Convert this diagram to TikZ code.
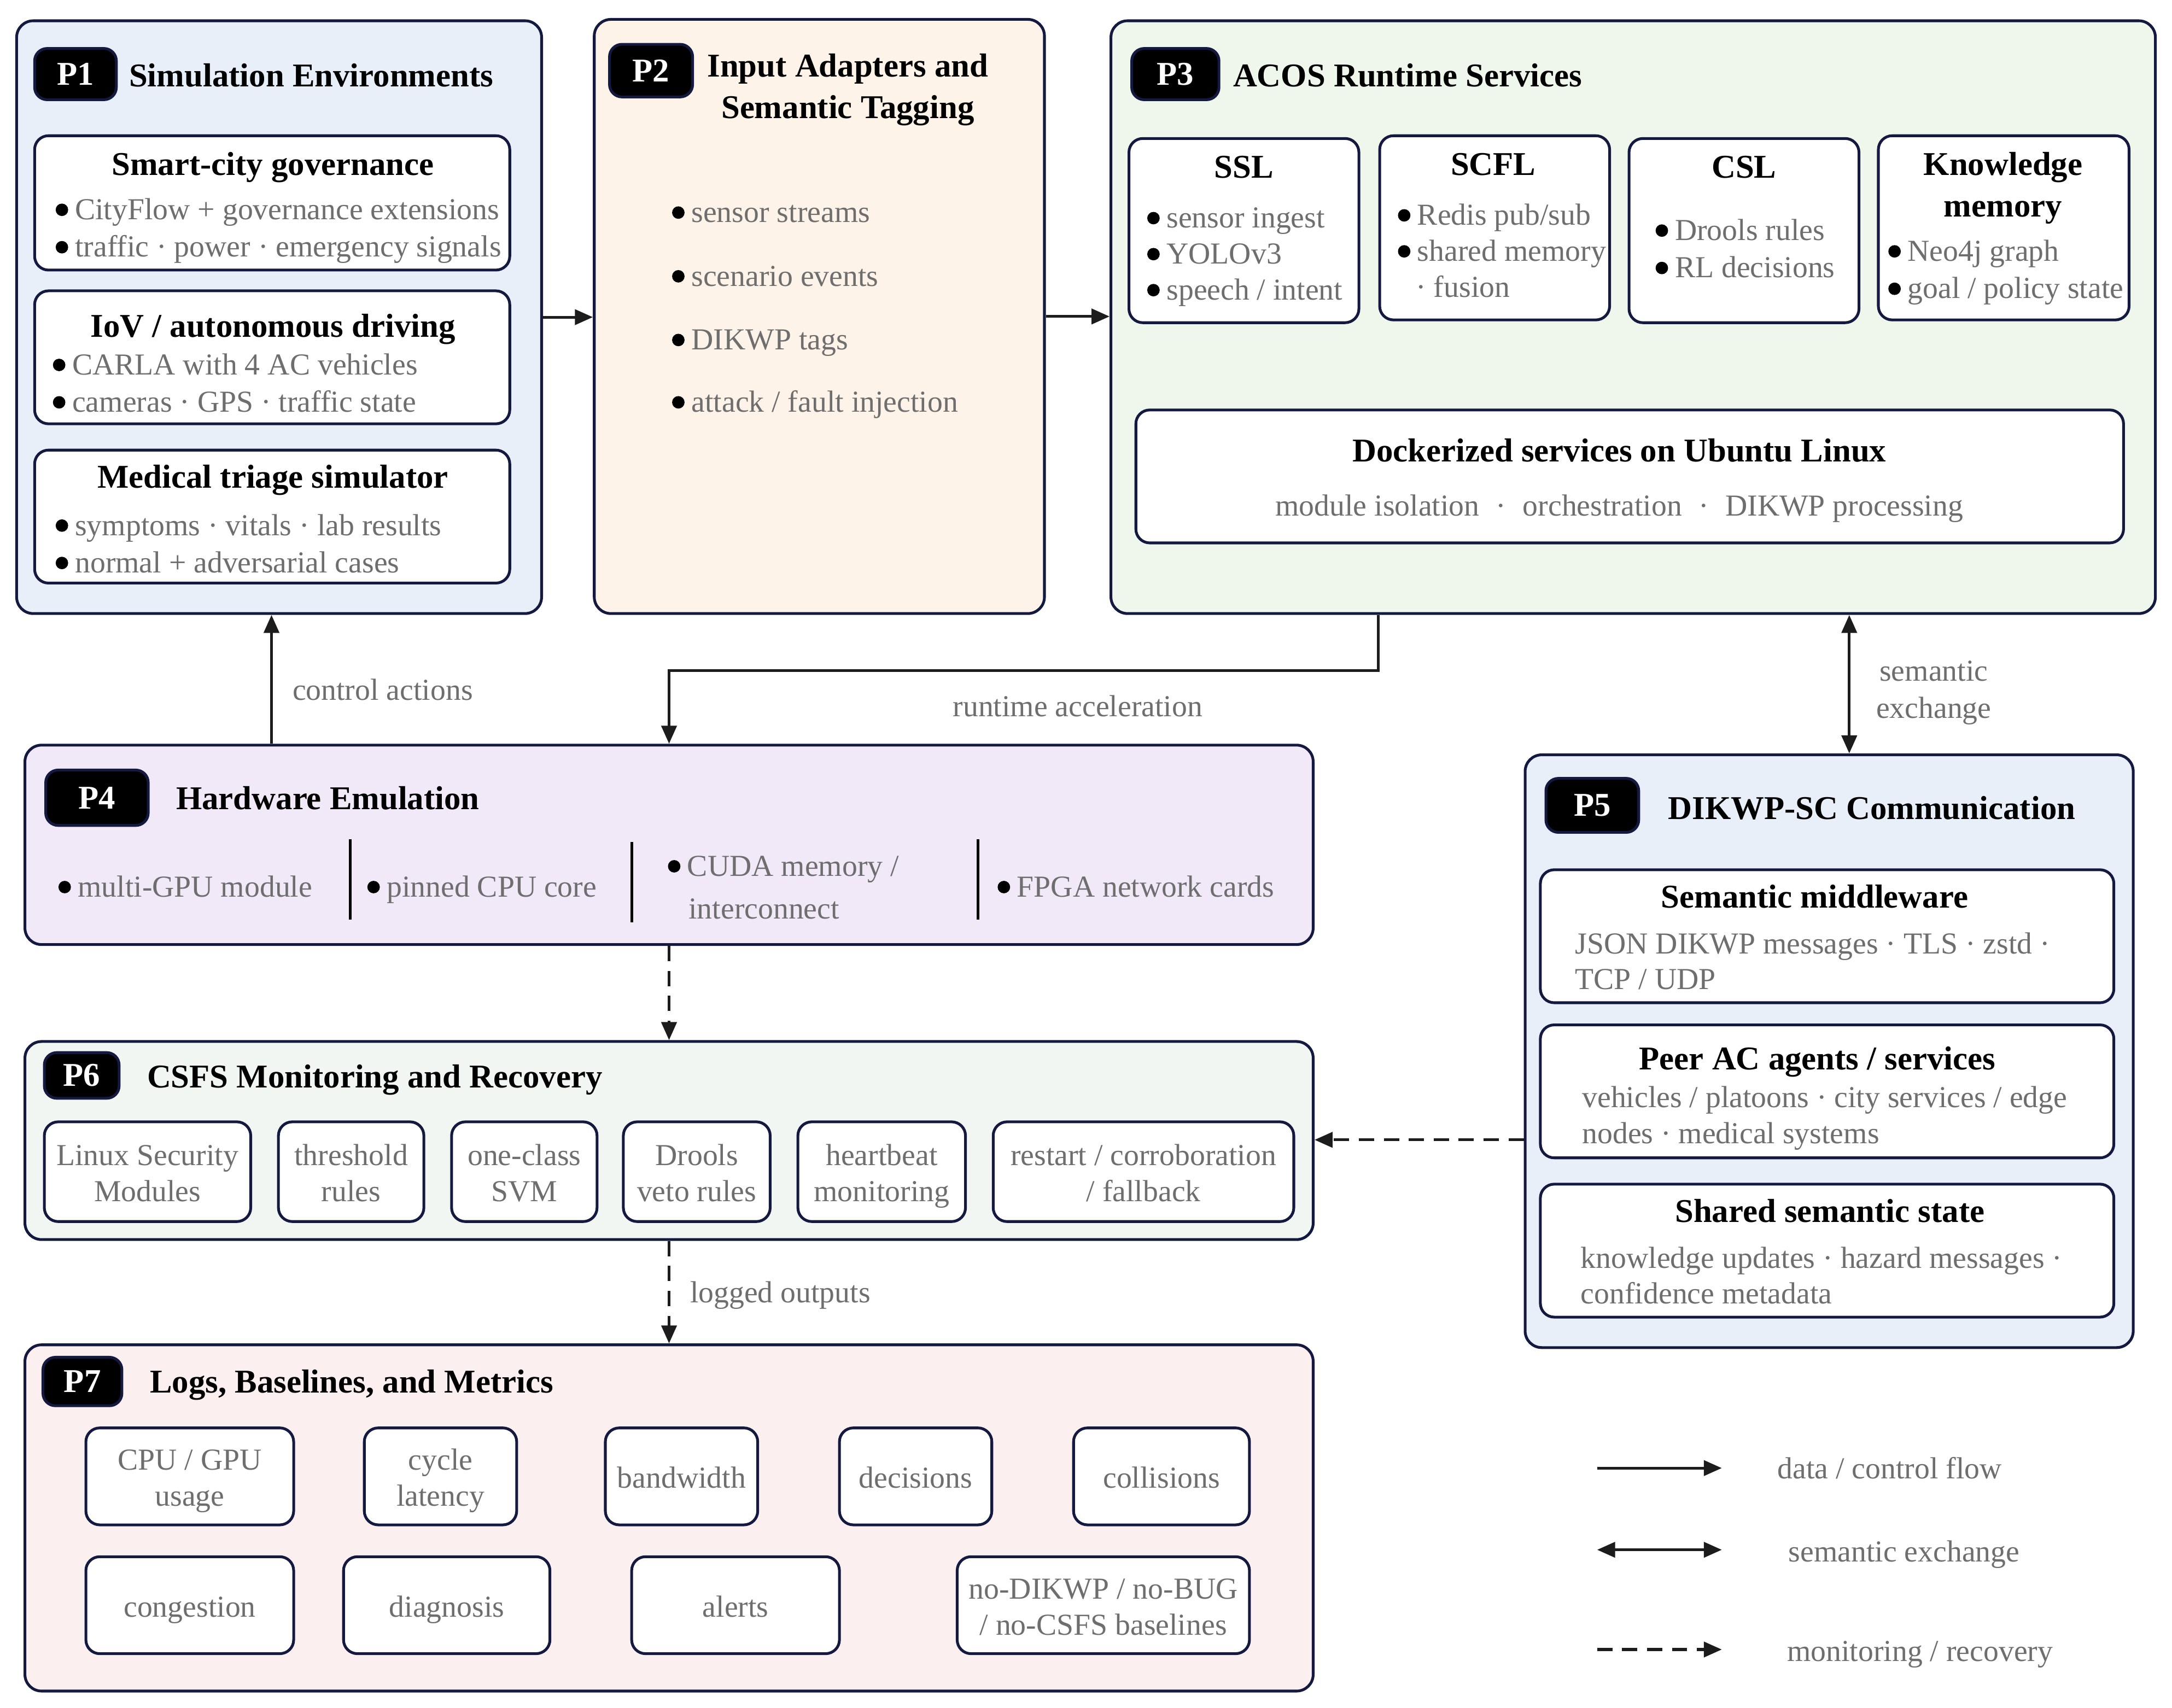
\documentclass[tikz,border=0pt]{standalone}
\usepackage{fontspec}
\setmainfont{Liberation Serif}
\usetikzlibrary{arrows.meta,fit}
\definecolor{navy}{RGB}{20,25,64}
\definecolor{tgray}{RGB}{110,110,110}
\definecolor{ink}{RGB}{28,28,28}
\definecolor{cPa}{RGB}{232,239,249}
\definecolor{cPb}{RGB}{253,243,232}
\definecolor{cPc}{RGB}{239,246,236}
\definecolor{cPd}{RGB}{241,232,248}
\definecolor{cPf}{RGB}{242,246,242}
\definecolor{cPg}{RGB}{251,239,240}
\newcommand{\bl}{\tikz[baseline=0pt]\fill[black] (4.5pt,7pt) circle[radius=4.5pt];\hspace{5pt}}
\begin{document}
\begin{tikzpicture}[x=1pt,y=-1pt,
 panel/.style={draw=navy,line width=2pt,rounded corners=12pt,inner sep=0pt},
 sub/.style={draw=navy,line width=2pt,rounded corners=10pt,fill=white,inner sep=0pt},
 badge/.style={draw=navy,line width=2pt,fill=black,rounded corners=9pt,inner sep=0pt},
 btxt/.style={font=\bfseries\fontsize{24}{28}\selectfont,text=white,inner sep=0pt},
 ttl/.style={font=\bfseries\fontsize{24}{28}\selectfont,text=black,inner sep=0pt,text height=22pt,text depth=5pt},
 txt/.style={font=\fontsize{22}{26}\selectfont,text=tgray,inner sep=0pt,text height=20pt,text depth=5pt},
 sepline/.style={draw=black,line width=2pt},
 flow/.style={draw=ink,line width=2pt,-{Triangle[length=13pt,width=11pt]}},
 both/.style={draw=ink,line width=2pt,{Triangle[length=13pt,width=11pt]}-{Triangle[length=13pt,width=11pt]}},
 mon/.style={draw=ink,line width=2pt,dash pattern=on 11pt off 7pt,-{Triangle[length=13pt,width=11pt]}},
]
\useasboundingbox (0,0) rectangle (1568,1233);
\fill[white] (0,0) rectangle (1568,1233);

% ---------------- P1
\node[panel,fill=cPa,fit={(12,15)(391,443)}] (p1) {};
\node[badge,fit={(25,35)(84,72)}] (b1) {};
\node[btxt] (b1t) at (b1.center) {P1};
\node[ttl,anchor=west] (t1) at (93,54) {Simulation Environments};
\node[sub,fit={(25,98)(368,195)}] (s11) {};
\node[ttl] (s11t) at (197,118) {Smart-city governance};
\node[txt,anchor=west] (s11a) at (40,151) {\bl CityFlow + governance extensions};
\node[txt,anchor=west] (s11b) at (40,178) {\bl traffic · power · emergency signals};
\node[sub,fit={(25,210)(368,306)}] (s12) {};
\node[ttl] (s12t) at (197,235) {IoV / autonomous driving};
\node[txt,anchor=west] (s12a) at (38,263) {\bl CARLA with 4 AC vehicles};
\node[txt,anchor=west] (s12b) at (38,290) {\bl cameras · GPS · traffic state};
\node[sub,fit={(25,325)(368,421)}] (s13) {};
\node[ttl] (s13t) at (197,344) {Medical triage simulator};
\node[txt,anchor=west] (s13a) at (40,379) {\bl symptoms · vitals · lab results};
\node[txt,anchor=west] (s13b) at (40,406) {\bl normal + adversarial cases};

% ---------------- P2
\node[panel,fill=cPb,fit={(429,14)(754,443)}] (p2) {};
\node[badge,fit={(440,32)(500,70)}] (b2) {};
\node[btxt] (b2t) at (b2.center) {P2};
\node[ttl] (t2a) at (612,47) {Input Adapters and};
\node[ttl] (t2b) at (612,77) {Semantic Tagging};
\node[txt,anchor=west] (p2a) at (485,153) {\bl sensor streams};
\node[txt,anchor=west] (p2b) at (485,199) {\bl scenario events};
\node[txt,anchor=west] (p2c) at (485,245) {\bl DIKWP tags};
\node[txt,anchor=west] (p2d) at (485,290) {\bl attack / fault injection};

% ---------------- P3
\node[panel,fill=cPc,fit={(802,15)(1556,443)}] (p3) {};
\node[badge,fit={(817,35)(880,72)}] (b3) {};
\node[btxt] (b3t) at (b3.center) {P3};
\node[ttl,anchor=west] (t3) at (890,54) {ACOS Runtime Services};
\node[sub,fit={(815,100)(981,233)}] (ssl) {};
\node[ttl] (sslt) at (898,120) {SSL};
\node[txt,anchor=west] (ssla) at (828,157) {\bl sensor ingest};
\node[txt,anchor=west] (sslb) at (828,183) {\bl YOLOv3};
\node[txt,anchor=west] (sslc) at (828,209) {\bl speech / intent};
\node[sub,fit={(996,98)(1162,231)}] (scfl) {};
\node[ttl] (scflt) at (1078,118) {SCFL};
\node[txt,anchor=west] (scfla) at (1009,155) {\bl Redis pub/sub};
\node[txt,anchor=west] (scflb) at (1009,181) {\bl shared memory};
\node[txt,anchor=west] (scflc) at (1022,207) {· fusion};
\node[sub,fit={(1176,100)(1342,233)}] (csl) {};
\node[ttl] (cslt) at (1259,120) {CSL};
\node[txt,anchor=west] (csla) at (1195,166) {\bl Drools rules};
\node[txt,anchor=west] (cslb) at (1195,193) {\bl RL decisions};
\node[sub,fit={(1356,98)(1537,231)}] (km) {};
\node[ttl] (kmt1) at (1446,118) {Knowledge};
\node[ttl] (kmt2) at (1446,148) {memory};
\node[txt,anchor=west] (kma) at (1363,181) {\bl Neo4j graph};
\node[txt,anchor=west] (kmb) at (1363,208) {\bl goal / policy state};
\node[sub,fit={(820,296)(1533,392)}] (dock) {};
\node[ttl] (dockt) at (1169,325) {Dockerized services on Ubuntu Linux};
\node[txt] (docka) at (1169,365) {module isolation\hspace{12pt}·\hspace{12pt}orchestration\hspace{12pt}·\hspace{12pt}DIKWP processing};

% ---------------- P4
\node[panel,fill=cPd,fit={(18,538)(948,682)}] (p4) {};
\node[badge,fit={(33,556)(107,596)}] (b4) {};
\node[btxt] (b4t) at (b4.center) {P4};
\node[ttl,anchor=west] (t4) at (127,576) {Hardware Emulation};
\node[txt,anchor=west] (p4a) at (42,640) {\bl multi-GPU module};
\draw[sepline] (253,606) -- (253,664);
\node[txt,anchor=west] (p4b) at (265,640) {\bl pinned CPU core};
\draw[sepline] (456,608) -- (456,666);
\node[txt,anchor=west] (p4c) at (482,625) {\bl CUDA memory /};
\node[txt,anchor=west] (p4d) at (497,656) {interconnect};
\draw[sepline] (706,606) -- (706,664);
\node[txt,anchor=west] (p4e) at (720,640) {\bl FPGA network cards};

% ---------------- P5
\node[panel,fill=cPa,fit={(1101,545)(1540,973)}] (p5) {};
\node[badge,fit={(1116,562)(1183,601)}] (b5) {};
\node[btxt] (b5t) at (b5.center) {P5};
\node[ttl,anchor=west] (t5) at (1204,583) {DIKWP-SC Communication};
\node[sub,fit={(1112,628)(1526,724)}] (sm) {};
\node[ttl] (smt) at (1310,647) {Semantic middleware};
\node[txt,anchor=west] (sma) at (1137,681) {JSON DIKWP messages · TLS · zstd ·};
\node[txt,anchor=west] (smb) at (1137,707) {TCP / UDP};
\node[sub,fit={(1112,740)(1526,836)}] (peer) {};
\node[ttl] (peert) at (1312,764) {Peer AC agents / services};
\node[txt,anchor=west] (peera) at (1142,792) {vehicles / platoons · city services / edge};
\node[txt,anchor=west] (peerb) at (1142,818) {nodes · medical systems};
\node[sub,fit={(1112,855)(1526,951)}] (sss) {};
\node[ttl] (ssst) at (1321,874) {Shared semantic state};
\node[txt,anchor=west] (sssa) at (1141,908) {knowledge updates · hazard messages ·};
\node[txt,anchor=west] (sssb) at (1141,934) {confidence metadata};

% ---------------- P6
\node[panel,fill=cPf,fit={(18,752)(948,895)}] (p6) {};
\node[badge,fit={(32,760)(86,793)}] (b6) {};
\node[btxt] (b6t) at (b6.center) {P6};
\node[ttl,anchor=west] (t6) at (106,777) {CSFS Monitoring and Recovery};
\node[sub,fit={(32,810)(181,882)}] (m1) {};
\node[txt] (m1a) at (106.5,834) {Linux Security};
\node[txt] (m1b) at (106.5,860) {Modules};
\node[sub,fit={(201,810)(306,882)}] (m2) {};
\node[txt] (m2a) at (253.5,834) {threshold};
\node[txt] (m2b) at (253.5,860) {rules};
\node[sub,fit={(326,810)(431,882)}] (m3) {};
\node[txt] (m3a) at (378.5,834) {one-class};
\node[txt] (m3b) at (378.5,860) {SVM};
\node[sub,fit={(450,810)(556,882)}] (m4) {};
\node[txt] (m4a) at (503,834) {Drools};
\node[txt] (m4b) at (503,860) {veto rules};
\node[sub,fit={(576,810)(697,882)}] (m5) {};
\node[txt] (m5a) at (636.5,834) {heartbeat};
\node[txt] (m5b) at (636.5,860) {monitoring};
\node[sub,fit={(717,810)(934,882)}] (m6) {};
\node[txt] (m6a) at (825.5,834) {restart / corroboration};
\node[txt] (m6b) at (825.5,860) {/ fallback};

% ---------------- P7
\node[panel,fill=cPg,fit={(18,971)(948,1221)}] (p7) {};
\node[badge,fit={(31,980)(88,1015)}] (b7) {};
\node[btxt] (b7t) at (b7.center) {P7};
\node[ttl,anchor=west] (t7) at (108,997) {Logs, Baselines, and Metrics};
\node[sub,fit={(62,1031)(212,1101)}] (g1) {};
\node[txt] (g1a) at (137,1054) {CPU / GPU};
\node[txt] (g1b) at (137,1080) {usage};
\node[sub,fit={(263,1031)(373,1101)}] (g2) {};
\node[txt] (g2a) at (318,1054) {cycle};
\node[txt] (g2b) at (318,1080) {latency};
\node[sub,fit={(437,1031)(547,1101)}] (g3) {};
\node[txt] (g3a) at (492,1067) {bandwidth};
\node[sub,fit={(606,1031)(716,1101)}] (g4) {};
\node[txt] (g4a) at (661,1067) {decisions};
\node[sub,fit={(775,1031)(902,1101)}] (g5) {};
\node[txt] (g5a) at (838.5,1067) {collisions};
\node[sub,fit={(62,1124)(212,1194)}] (g6) {};
\node[txt] (g6a) at (137,1160) {congestion};
\node[sub,fit={(248,1124)(397,1194)}] (g7) {};
\node[txt] (g7a) at (322.5,1160) {diagnosis};
\node[sub,fit={(456,1124)(606,1194)}] (g8) {};
\node[txt] (g8a) at (531,1160) {alerts};
\node[sub,fit={(691,1124)(902,1194)}] (g9) {};
\node[txt] (g9a) at (796.5,1147) {no-DIKWP / no-BUG};
\node[txt] (g9b) at (796.5,1173) {/ no-CSFS baselines};

% ---------------- connectors
\coordinate (xa) at (196,0);
\coordinate (xb) at (483,0);
\coordinate (xc) at (995,0);
\coordinate (xd) at (1335,0);
\coordinate (yr) at (0,484);
\coordinate (ye) at (0,823);
\draw[flow] (p1.east) -- (p1.east -| p2.west);
\draw[flow] (p2.east) -- (p2.east -| p3.west);
\draw[flow] (p3.south -| xc) -- (yr -| xc) -- (yr -| xb) -- (p4.north -| xb);
\node[txt] (lr) at (778,510) {runtime acceleration};
\draw[flow] (p4.north -| xa) -- (p1.south -| xa);
\node[txt,anchor=west] (lc) at (211,498) {control actions};
\draw[both] (p3.south -| xd) -- (p5.north -| xd);
\node[txt] (ls1) at (1396,484) {semantic};
\node[txt] (ls2) at (1396,511) {exchange};
\draw[mon] (p4.south -| xb) -- (p6.north -| xb);
\draw[mon] (p6.south -| xb) -- (p7.north -| xb);
\node[txt,anchor=west] (ll) at (498,933) {logged outputs};
\draw[mon] (p5.west |- ye) -- (p6.east |- ye);

% ---------------- legend
\coordinate (la1) at (1153,1060);
\coordinate (lb1) at (1243,1060);
\coordinate (la2) at (1153,1119);
\coordinate (lb2) at (1243,1119);
\coordinate (la3) at (1153,1191);
\coordinate (lb3) at (1243,1191);
\draw[flow] (la1) -- (lb1);
\draw[both] (la2) -- (lb2);
\draw[mon] (la3) -- (lb3);
\node[txt,anchor=west] (lg1) at (1283,1060) {data / control flow};
\node[txt,anchor=west] (lg2) at (1291,1120) {semantic exchange};
\node[txt,anchor=west] (lg3) at (1290,1192) {monitoring / recovery};
\end{tikzpicture}
\end{document}
